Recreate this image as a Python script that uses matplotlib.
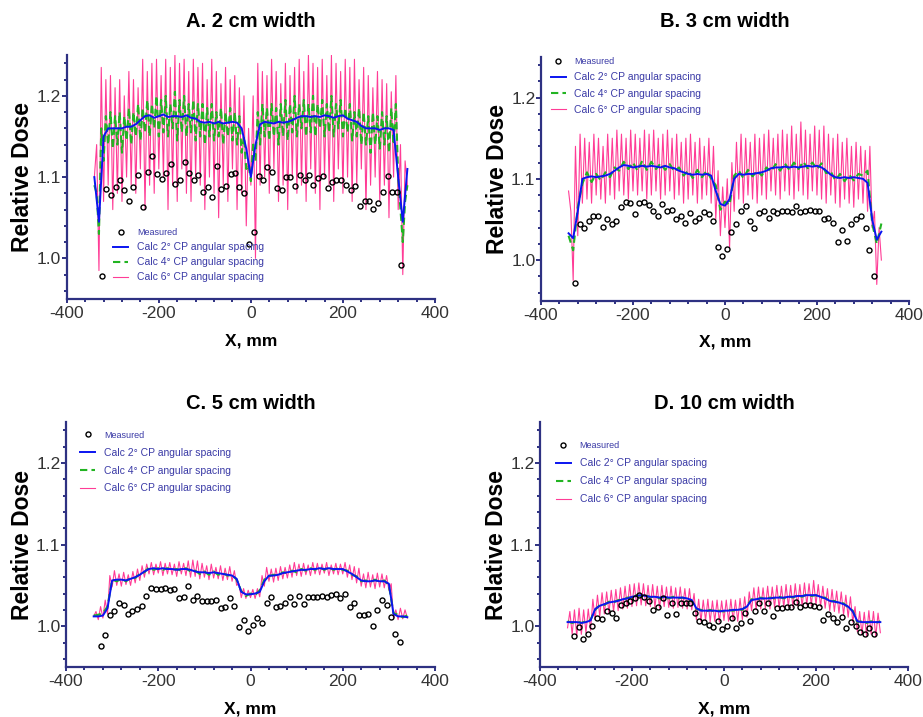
import numpy as np
import matplotlib.pyplot as plt
from matplotlib.ticker import MultipleLocator

plt.rcParams['font.family'] = ['Liberation Sans', 'DejaVu Sans']
plt.rcParams['axes.unicode_minus'] = False

# sampling grids of the calculated profiles (mm)
x_calc = np.arange(-340, 341, 10)
x_peak = np.arange(-335, 336, 10)

# ---------------- A. 2 cm width ----------------
a_meas_x = [-324, -315, -304, -294, -285, -275, -264, -255, -245, -235, -224, -214, -204, -194,
            -184, -174, -164, -154, -144, -134, -124, -114, -104, -94, -84, -74, -64, -54, -44,
            -35, -25, -14, -4, 7, 17, 27, 36, 46, 56, 67, 77, 86, 96, 106, 117, 127, 136, 146,
            156, 167, 177, 186, 196, 206, 217, 227, 237, 247, 256, 266, 276, 287, 297, 307, 317, 327]
a_meas_y = [0.978, 1.085, 1.078, 1.088, 1.097, 1.084, 1.071, 1.088, 1.103, 1.063, 1.106, 1.126,
            1.104, 1.098, 1.105, 1.116, 1.092, 1.096, 1.119, 1.105, 1.096, 1.103, 1.082, 1.088,
            1.075, 1.114, 1.085, 1.089, 1.104, 1.105, 1.088, 1.081, 1.018, 1.032, 1.101, 1.096,
            1.112, 1.106, 1.086, 1.084, 1.100, 1.100, 1.089, 1.102, 1.097, 1.103, 1.090, 1.099,
            1.101, 1.086, 1.094, 1.097, 1.097, 1.090, 1.084, 1.089, 1.065, 1.070, 1.070, 1.061,
            1.068, 1.082, 1.101, 1.082, 1.082, 0.992]
a_calc2 = [1.100, 1.045, 1.150, 1.160, 1.160, 1.160, 1.160, 1.162, 1.162, 1.165, 1.170, 1.175,
           1.176, 1.173, 1.175, 1.177, 1.174, 1.175, 1.175, 1.174, 1.176, 1.173, 1.172, 1.168,
           1.167, 1.168, 1.166, 1.168, 1.166, 1.167, 1.168, 1.167, 1.160, 1.135, 1.100, 1.140,
           1.165, 1.168, 1.167, 1.166, 1.168, 1.167, 1.168, 1.170, 1.173, 1.175, 1.175, 1.174,
           1.175, 1.174, 1.176, 1.175, 1.173, 1.175, 1.176, 1.172, 1.170, 1.168, 1.163, 1.160,
           1.160, 1.160, 1.158, 1.160, 1.160, 1.158, 1.100, 1.045, 1.110]
a_calc4_lo = [1.09, 1.03, 1.12, 1.14, 1.135, 1.14, 1.13, 1.145, 1.14, 1.15, 1.145, 1.155, 1.15,
              1.16, 1.15, 1.155, 1.15, 1.16, 1.145, 1.155, 1.15, 1.155, 1.145, 1.15, 1.14, 1.15,
              1.145, 1.15, 1.14, 1.15, 1.145, 1.14, 1.13, 1.11, 1.095, 1.12, 1.14, 1.15, 1.145,
              1.15, 1.14, 1.15, 1.145, 1.155, 1.15, 1.16, 1.15, 1.155, 1.15, 1.16, 1.15, 1.155,
              1.15, 1.16, 1.15, 1.155, 1.145, 1.15, 1.14, 1.14, 1.13, 1.14, 1.135, 1.14, 1.13,
              1.14, 1.10, 1.02, 1.09]
a_calc4_hi = [1.08, 1.16, 1.175, 1.18, 1.175, 1.18, 1.175, 1.185, 1.18, 1.19, 1.185, 1.195, 1.19,
              1.20, 1.195, 1.20, 1.19, 1.205, 1.195, 1.20, 1.19, 1.195, 1.19, 1.19, 1.185, 1.19,
              1.18, 1.185, 1.18, 1.185, 1.18, 1.175, 1.15, 1.115, 1.14, 1.18, 1.19, 1.185, 1.19,
              1.185, 1.19, 1.195, 1.19, 1.20, 1.19, 1.195, 1.19, 1.20, 1.19, 1.195, 1.19, 1.20,
              1.19, 1.195, 1.185, 1.19, 1.18, 1.185, 1.18, 1.175, 1.18, 1.175, 1.18, 1.175, 1.185,
              1.19, 1.06, 1.07]
a_calc6_lo = [1.10, 0.985, 1.07, 1.09, 1.06, 1.08, 1.07, 1.10, 1.09, 1.08, 1.11, 1.06, 1.09, 1.08,
              1.11, 1.10, 1.06, 1.09, 1.07, 1.11, 1.08, 1.07, 1.10, 1.09, 1.06, 1.10, 1.08, 1.05,
              1.09, 1.07, 1.11, 1.06, 1.08, 1.04, 1.09, 1.00, 1.09, 1.10, 1.08, 1.11, 1.07, 1.09,
              1.06, 1.10, 1.08, 1.09, 1.07, 1.11, 1.08, 1.06, 1.10, 1.09, 1.07, 1.11, 1.08, 1.10,
              1.07, 1.09, 1.11, 1.06, 1.09, 1.10, 1.07, 1.09, 1.05, 1.10, 1.06, 0.98, 1.09]
a_calc6_hi = [1.14, 1.235, 1.22, 1.225, 1.21, 1.22, 1.20, 1.23, 1.22, 1.21, 1.245, 1.23, 1.24,
              1.245, 1.225, 1.245, 1.235, 1.25, 1.24, 1.245, 1.23, 1.245, 1.235, 1.24, 1.22, 1.245,
              1.23, 1.215, 1.235, 1.22, 1.225, 1.21, 1.20, 1.16, 1.20, 1.24, 1.23, 1.225, 1.245,
              1.23, 1.215, 1.24, 1.225, 1.235, 1.245, 1.23, 1.25, 1.24, 1.235, 1.245, 1.225, 1.25,
              1.24, 1.23, 1.245, 1.235, 1.245, 1.22, 1.235, 1.225, 1.21, 1.23, 1.22, 1.215, 1.205,
              1.225, 1.14, 1.12]

# ---------------- B. 3 cm width ----------------
b_meas_x = [-326, -316, -306, -296, -286, -276, -266, -256, -245, -236, -226, -216, -206, -196,
            -186, -176, -166, -156, -146, -136, -126, -116, -106, -96, -86, -76, -66, -56, -46,
            -35, -25, -16, -6, 4, 14, 25, 35, 45, 54, 64, 75, 85, 95, 105, 114, 125, 135, 145,
            155, 164, 175, 185, 195, 205, 215, 225, 235, 245, 255, 265, 275, 285, 295, 306, 314, 324]
b_meas_y = [0.972, 1.045, 1.040, 1.048, 1.054, 1.054, 1.041, 1.050, 1.045, 1.048, 1.065, 1.072,
            1.070, 1.057, 1.070, 1.072, 1.068, 1.060, 1.054, 1.069, 1.060, 1.062, 1.050, 1.054,
            1.046, 1.058, 1.048, 1.052, 1.059, 1.057, 1.048, 1.016, 1.005, 1.014, 1.035, 1.045,
            1.061, 1.067, 1.048, 1.040, 1.058, 1.060, 1.052, 1.060, 1.058, 1.061, 1.061, 1.059,
            1.066, 1.059, 1.061, 1.062, 1.060, 1.061, 1.050, 1.052, 1.046, 1.022, 1.037, 1.023,
            1.045, 1.050, 1.054, 1.040, 1.013, 0.980]
b_calc2 = [1.033, 1.027, 1.060, 1.100, 1.102, 1.103, 1.102, 1.103, 1.104, 1.106, 1.110, 1.114,
           1.117, 1.116, 1.114, 1.115, 1.116, 1.115, 1.116, 1.115, 1.114, 1.116, 1.114, 1.113,
           1.110, 1.108, 1.106, 1.105, 1.106, 1.105, 1.106, 1.104, 1.085, 1.069, 1.067, 1.075,
           1.100, 1.106, 1.105, 1.106, 1.106, 1.107, 1.108, 1.110, 1.113, 1.114, 1.114, 1.115,
           1.114, 1.115, 1.114, 1.115, 1.116, 1.115, 1.116, 1.114, 1.110, 1.105, 1.102, 1.101,
           1.102, 1.101, 1.102, 1.101, 1.100, 1.095, 1.050, 1.025, 1.035]
b_calc4 = [1.030, 1.012, 1.065, 1.094, 1.108, 1.096, 1.106, 1.098, 1.108, 1.102, 1.114, 1.110,
           1.121, 1.112, 1.120, 1.110, 1.122, 1.111, 1.121, 1.112, 1.119, 1.111, 1.118, 1.109,
           1.114, 1.104, 1.110, 1.101, 1.111, 1.102, 1.110, 1.100, 1.092, 1.062, 1.072, 1.068,
           1.104, 1.110, 1.101, 1.111, 1.103, 1.110, 1.104, 1.114, 1.109, 1.118, 1.110, 1.119,
           1.111, 1.120, 1.112, 1.121, 1.113, 1.120, 1.112, 1.119, 1.107, 1.109, 1.098, 1.106,
           1.097, 1.105, 1.098, 1.106, 1.104, 1.110, 1.045, 1.020, 1.045]
b_calc6_lo = [1.085, 0.975, 1.03, 1.07, 1.075, 1.07, 1.08, 1.075, 1.07, 1.08, 1.075, 1.085, 1.08,
              1.075, 1.085, 1.08, 1.085, 1.075, 1.08, 1.085, 1.075, 1.08, 1.085, 1.075, 1.08,
              1.07, 1.075, 1.08, 1.07, 1.075, 1.08, 1.07, 1.05, 1.03, 1.04, 1.015, 1.06, 1.075,
              1.07, 1.08, 1.075, 1.07, 1.08, 1.075, 1.085, 1.08, 1.075, 1.085, 1.08, 1.075, 1.085,
              1.08, 1.075, 1.085, 1.08, 1.075, 1.07, 1.08, 1.07, 1.065, 1.075, 1.07, 1.065, 1.075,
              1.07, 1.06, 1.04, 0.97, 1.00]
b_calc6_hi = [1.06, 1.14, 1.155, 1.15, 1.145, 1.155, 1.15, 1.14, 1.155, 1.15, 1.16, 1.155, 1.15,
              1.16, 1.155, 1.15, 1.16, 1.155, 1.16, 1.15, 1.155, 1.16, 1.15, 1.155, 1.145, 1.15,
              1.155, 1.145, 1.15, 1.14, 1.15, 1.14, 1.11, 1.09, 1.10, 1.12, 1.145, 1.155, 1.15,
              1.145, 1.155, 1.15, 1.155, 1.16, 1.15, 1.155, 1.16, 1.155, 1.165, 1.155, 1.17, 1.16,
              1.155, 1.165, 1.16, 1.165, 1.155, 1.15, 1.155, 1.145, 1.15, 1.14, 1.145, 1.14,
              1.135, 1.14, 1.06, 1.04]

# ---------------- C. 5 cm width ----------------
c_meas_x = [-325, -315, -305, -295, -285, -275, -265, -256, -246, -236, -226, -215, -205, -195,
            -185, -175, -165, -155, -145, -135, -125, -115, -105, -95, -85, -75, -65, -55, -45,
            -35, -25, -15, -5, 5, 15, 25, 35, 45, 55, 65, 75, 85, 95, 105, 115, 125, 135, 145,
            155, 165, 175, 185, 195, 205, 215, 225, 235, 245, 255, 265, 275, 285, 295, 304, 314, 324]
c_meas_y = [0.976, 0.989, 1.014, 1.018, 1.028, 1.026, 1.015, 1.018, 1.021, 1.025, 1.037, 1.047,
            1.046, 1.045, 1.047, 1.044, 1.045, 1.034, 1.036, 1.049, 1.032, 1.037, 1.031, 1.031,
            1.031, 1.032, 1.022, 1.023, 1.034, 1.025, 0.999, 1.008, 0.994, 1.002, 1.010, 1.004,
            1.028, 1.036, 1.023, 1.025, 1.029, 1.036, 1.027, 1.037, 1.027, 1.036, 1.036, 1.036,
            1.037, 1.036, 1.038, 1.040, 1.035, 1.040, 1.024, 1.029, 1.014, 1.014, 1.015, 1.000,
            1.020, 1.032, 1.026, 1.011, 0.990, 0.981]
c_calc2 = [1.012, 1.012, 1.013, 1.022, 1.056, 1.057, 1.057, 1.056, 1.058, 1.060, 1.063, 1.067,
           1.070, 1.071, 1.070, 1.071, 1.070, 1.070, 1.069, 1.070, 1.070, 1.069, 1.067, 1.066,
           1.066, 1.065, 1.066, 1.065, 1.064, 1.063, 1.062, 1.058, 1.042, 1.039, 1.039, 1.040,
           1.042, 1.055, 1.062, 1.062, 1.063, 1.065, 1.066, 1.067, 1.068, 1.069, 1.069, 1.070,
           1.070, 1.071, 1.070, 1.071, 1.070, 1.070, 1.070, 1.067, 1.064, 1.060, 1.056, 1.055,
           1.055, 1.056, 1.055, 1.055, 1.052, 1.015, 1.012, 1.012, 1.011]
c_calc4 = [1.013, 1.014, 1.016, 1.024, 1.057, 1.055, 1.058, 1.055, 1.059, 1.059, 1.064, 1.066,
           1.072, 1.069, 1.071, 1.069, 1.071, 1.069, 1.070, 1.068, 1.071, 1.067, 1.068, 1.064,
           1.067, 1.063, 1.067, 1.063, 1.065, 1.062, 1.063, 1.057, 1.043, 1.037, 1.040, 1.038,
           1.044, 1.057, 1.061, 1.063, 1.062, 1.066, 1.065, 1.068, 1.066, 1.070, 1.068, 1.071,
           1.069, 1.072, 1.069, 1.072, 1.069, 1.071, 1.069, 1.068, 1.063, 1.061, 1.055, 1.056,
           1.054, 1.057, 1.054, 1.056, 1.050, 1.016, 1.014, 1.011, 1.013]
c_calc6_lo = [1.012, 1.008, 1.010, 1.015, 1.048, 1.050, 1.049, 1.051, 1.050, 1.053, 1.056, 1.060,
              1.064, 1.063, 1.065, 1.062, 1.064, 1.063, 1.061, 1.064, 1.062, 1.060, 1.061, 1.058,
              1.060, 1.057, 1.059, 1.058, 1.056, 1.057, 1.055, 1.050, 1.035, 1.034, 1.035, 1.034,
              1.036, 1.049, 1.055, 1.054, 1.056, 1.058, 1.059, 1.060, 1.062, 1.061, 1.063, 1.062,
              1.064, 1.063, 1.065, 1.062, 1.064, 1.063, 1.064, 1.060, 1.057, 1.053, 1.049, 1.047,
              1.048, 1.046, 1.048, 1.047, 1.044, 1.010, 1.008, 1.009, 1.010]
c_calc6_hi = [1.018, 1.024, 1.032, 1.062, 1.068, 1.064, 1.066, 1.063, 1.067, 1.070, 1.074, 1.076,
              1.078, 1.076, 1.079, 1.077, 1.078, 1.076, 1.079, 1.077, 1.080, 1.081, 1.080, 1.077,
              1.074, 1.076, 1.072, 1.074, 1.071, 1.073, 1.068, 1.052, 1.046, 1.044, 1.045, 1.046,
              1.062, 1.072, 1.070, 1.071, 1.073, 1.072, 1.075, 1.078, 1.076, 1.077, 1.075, 1.078,
              1.077, 1.076, 1.078, 1.075, 1.077, 1.076, 1.078, 1.075, 1.073, 1.071, 1.064, 1.066,
              1.063, 1.065, 1.064, 1.062, 1.052, 1.020, 1.022, 1.020]

# ---------------- D. 10 cm width ----------------
d_meas_x = [-326, -316, -306, -296, -286, -275, -265, -255, -244, -234, -224, -214, -204, -194,
            -184, -174, -164, -154, -144, -133, -124, -114, -104, -94, -83, -74, -64, -54, -44,
            -33, -23, -14, -4, 7, 17, 27, 36, 46, 57, 67, 76, 86, 96, 107, 116, 126, 136, 146,
            156, 166, 176, 186, 196, 206, 216, 226, 236, 246, 256, 266, 276, 286, 296, 306, 316, 326]
d_meas_y = [0.988, 0.999, 0.984, 0.990, 1.000, 1.010, 1.009, 1.019, 1.016, 1.010, 1.026, 1.028,
            1.031, 1.034, 1.038, 1.036, 1.031, 1.020, 1.023, 1.034, 1.014, 1.028, 1.015, 1.029,
            1.028, 1.028, 1.016, 1.006, 1.005, 1.001, 0.999, 1.006, 0.997, 1.000, 1.010, 0.998,
            1.004, 1.016, 1.006, 1.019, 1.028, 1.019, 1.028, 1.013, 1.022, 1.022, 1.023, 1.024,
            1.030, 1.023, 1.026, 1.026, 1.025, 1.024, 1.007, 1.015, 1.010, 1.005, 1.011, 0.998,
            1.005, 1.000, 0.993, 0.991, 0.998, 0.990]
d_calc2 = [1.005, 1.005, 1.005, 1.004, 1.005, 1.007, 1.021, 1.025, 1.027, 1.029, 1.030, 1.031,
           1.033, 1.034, 1.036, 1.037, 1.038, 1.037, 1.036, 1.036, 1.035, 1.036, 1.035, 1.035,
           1.035, 1.035, 1.034, 1.032, 1.022, 1.019, 1.019, 1.019, 1.019, 1.018, 1.019, 1.019,
           1.020, 1.020, 1.021, 1.024, 1.032, 1.033, 1.034, 1.034, 1.034, 1.035, 1.035, 1.035,
           1.036, 1.036, 1.037, 1.037, 1.038, 1.038, 1.038, 1.036, 1.034, 1.031, 1.030, 1.029,
           1.027, 1.024, 1.018, 1.006, 1.005, 1.005, 1.005, 1.005, 1.005]
d_calc4 = [1.006, 1.004, 1.006, 1.004, 1.006, 1.008, 1.020, 1.026, 1.026, 1.030, 1.029, 1.032,
           1.032, 1.035, 1.035, 1.038, 1.037, 1.038, 1.035, 1.037, 1.034, 1.036, 1.034, 1.036,
           1.034, 1.035, 1.033, 1.031, 1.021, 1.020, 1.018, 1.020, 1.018, 1.019, 1.018, 1.020,
           1.019, 1.021, 1.020, 1.025, 1.033, 1.032, 1.035, 1.033, 1.035, 1.034, 1.036, 1.034,
           1.037, 1.035, 1.038, 1.036, 1.039, 1.037, 1.038, 1.035, 1.035, 1.030, 1.031, 1.028,
           1.028, 1.023, 1.019, 1.005, 1.006, 1.004, 1.006, 1.004, 1.006]
d_calc6_lo = [0.998, 0.990, 0.988, 0.990, 0.992, 0.995, 1.008, 1.012, 1.015, 1.016, 1.018, 1.019,
              1.021, 1.022, 1.024, 1.025, 1.026, 1.025, 1.024, 1.023, 1.022, 1.024, 1.023, 1.022,
              1.023, 1.022, 1.021, 1.020, 1.008, 1.006, 1.007, 1.005, 1.006, 1.005, 1.007, 1.006,
              1.007, 1.006, 1.008, 1.011, 1.019, 1.020, 1.021, 1.022, 1.021, 1.023, 1.022, 1.023,
              1.024, 1.023, 1.025, 1.024, 1.026, 1.025, 1.026, 1.024, 1.022, 1.019, 1.018, 1.016,
              1.014, 1.011, 1.005, 0.993, 0.990, 0.988, 0.990, 0.987, 0.992]
d_calc6_hi = [1.018, 1.020, 1.022, 1.020, 1.021, 1.033, 1.038, 1.041, 1.042, 1.044, 1.045, 1.047,
              1.049, 1.051, 1.052, 1.053, 1.052, 1.050, 1.051, 1.049, 1.050, 1.048, 1.049, 1.047,
              1.048, 1.046, 1.046, 1.040, 1.033, 1.032, 1.033, 1.031, 1.032, 1.031, 1.032, 1.033,
              1.032, 1.034, 1.036, 1.042, 1.047, 1.048, 1.047, 1.049, 1.048, 1.050, 1.049, 1.051,
              1.050, 1.052, 1.051, 1.053, 1.052, 1.056, 1.051, 1.049, 1.046, 1.045, 1.043, 1.042,
              1.038, 1.036, 1.024, 1.018, 1.017, 1.019, 1.018, 1.016]

labels = ['Measured', 'Calc 2° CP angular spacing', 'Calc 4° CP angular spacing',
          'Calc 6° CP angular spacing']

navy = '#2e3182'
text_blue = '#3a3aa6'


def zigzag(lo, hi):
    # troughs sit on the 10 mm grid, peaks half way between them
    xs = np.empty(len(lo) + len(hi))
    ys = np.empty(len(lo) + len(hi))
    xs[0::2] = x_calc
    xs[1::2] = x_peak
    ys[0::2] = lo
    ys[1::2] = hi
    return xs, ys


def draw_panel(ax, meas_x, meas_y, calc2, x4, calc4, x6, calc6, leg_anchor, leg_space):
    ax.plot(x6, calc6, color='#ff3c96', lw=0.8, zorder=1, label=labels[3])
    ax.plot(x4, calc4, color='#22b422', lw=1.5, ls=(0, (3.5, 2)), zorder=2, label=labels[2])
    ax.plot(x_calc, calc2, color='#0a14f0', lw=1.4, zorder=3, label=labels[1])
    ax.plot(meas_x, meas_y, 'o', ms=3.6, mfc='none', mec='black', mew=1.0, zorder=4,
            label=labels[0])

    ax.set_xlim(-400, 400)
    ax.set_ylim(0.95, 1.25)
    ax.xaxis.set_major_locator(MultipleLocator(200))
    ax.xaxis.set_minor_locator(MultipleLocator(40))
    ax.yaxis.set_major_locator(MultipleLocator(0.1))
    ax.yaxis.set_minor_locator(MultipleLocator(0.02))
    ax.yaxis.set_major_formatter(plt.FormatStrFormatter('%.1f'))
    for s in ['top', 'right']:
        ax.spines[s].set_visible(False)
    for s in ['left', 'bottom']:
        ax.spines[s].set_color(navy)
        ax.spines[s].set_linewidth(1.6)
    ax.tick_params(which='both', direction='out', color=navy, width=1.4)
    ax.tick_params(axis='y', which='major', length=3.5, pad=0.5, labelsize=12.5,
                   labelcolor='#333333')
    ax.tick_params(axis='y', which='minor', length=2.5)
    ax.tick_params(axis='x', which='major', length=3, pad=2, labelsize=12.5,
                   labelcolor='#333333')
    ax.tick_params(axis='x', which='minor', length=2.5)

    ax.set_xlabel('X, mm', fontsize=12.5, fontweight='bold')
    ax.set_ylabel('Relative Dose', fontsize=16.5, fontweight='bold')
    ax.xaxis.set_label_coords(0.5, -0.14)
    ax.yaxis.set_label_coords(-0.088, 0.5)

    h, l = ax.get_legend_handles_labels()
    leg = ax.legend(h[::-1], l[::-1], loc='upper left', bbox_to_anchor=leg_anchor,
                    frameon=False, fontsize=7.5, labelcolor=text_blue, handlelength=1.45,
                    handletextpad=0.85, labelspacing=leg_space, borderpad=0,
                    borderaxespad=0, numpoints=1)
    leg.get_texts()[0].set_fontsize(6.5)


fig = plt.figure(figsize=(9.23, 7.17), dpi=100)

ax_a = fig.add_axes([0.0723, 0.583, 0.399, 0.340])
x6, y6 = zigzag(a_calc6_lo, a_calc6_hi)
x4, y4 = zigzag(a_calc4_lo, a_calc4_hi)
draw_panel(ax_a, a_meas_x, a_meas_y, a_calc2, x4, y4, x6, y6, (0.126, 0.291), 0.48)

ax_b = fig.add_axes([0.5861, 0.5806, 0.3987, 0.340])
x6, y6 = zigzag(b_calc6_lo, b_calc6_hi)
draw_panel(ax_b, b_meas_x, b_meas_y, b_calc2, x_calc, b_calc4, x6, y6, (0.026, 1.0), 0.6)

ax_c = fig.add_axes([0.0715, 0.0697, 0.3998, 0.3417])
x6, y6 = zigzag(c_calc6_lo, c_calc6_hi)
draw_panel(ax_c, c_meas_x, c_meas_y, c_calc2, x_calc, c_calc4, x6, y6, (0.038, 0.9645), 0.75)

ax_d = fig.add_axes([0.585, 0.0697, 0.3987, 0.3417])
x6, y6 = zigzag(d_calc6_lo, d_calc6_hi)
draw_panel(ax_d, d_meas_x, d_meas_y, d_calc2, x_calc, d_calc4, x6, y6, (0.0427, 0.922), 0.77)

fig.text(0.2718, 0.9707, 'A. 2 cm width', ha='center', va='center', fontsize=14.5,
         fontweight='bold')
fig.text(0.7855, 0.9707, 'B. 3 cm width', ha='center', va='center', fontsize=14.5,
         fontweight='bold')
fig.text(0.2718, 0.4379, 'C. 5 cm width', ha='center', va='center', fontsize=14.5,
         fontweight='bold')
fig.text(0.7845, 0.4379, 'D. 10 cm width', ha='center', va='center', fontsize=14.5,
         fontweight='bold')

fig.savefig('out.png', dpi=100)
